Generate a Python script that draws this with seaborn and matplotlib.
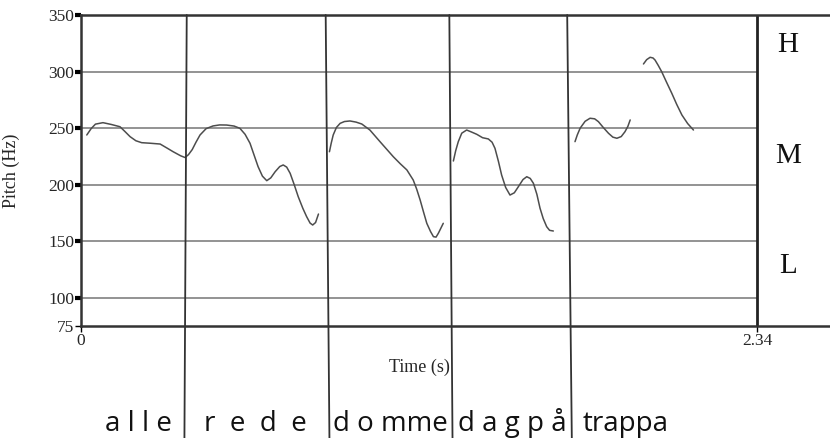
import matplotlib
matplotlib.use('Agg')
import matplotlib.pyplot as plt
import numpy as np
import pandas as pd
import seaborn as sns

# pitch track: time (s), pitch (Hz)
seg1_t = [0.020, 0.035, 0.050, 0.076, 0.105, 0.135, 0.152, 0.170, 0.190, 0.210, 0.240,
          0.274, 0.300, 0.319, 0.345, 0.360, 0.372, 0.385, 0.398, 0.412, 0.433, 0.457,
          0.480, 0.504, 0.530, 0.550, 0.568, 0.585, 0.600, 0.613, 0.628, 0.643, 0.657,
          0.672, 0.688, 0.700, 0.712, 0.724, 0.738, 0.752, 0.768, 0.781, 0.793, 0.802,
          0.812, 0.822]
seg1_f = [243.9, 249.5, 253.5, 254.8, 253.2, 251.2, 247.0, 242.4, 238.8, 237.1, 236.6,
          235.9, 232.0, 229.1, 225.5, 224.0, 226.5, 231.0, 237.5, 243.9, 249.5, 251.9,
          252.8, 252.7, 251.8, 249.8, 244.5, 236.6, 225.5, 215.9, 207.5, 203.5, 206.0,
          211.4, 216.0, 217.4, 215.5, 210.0, 200.0, 189.3, 179.0, 171.7, 166.0, 164.3,
          166.5, 174.0]
seg2_t = [0.860, 0.866, 0.873, 0.884, 0.897, 0.912, 0.931, 0.952, 0.972, 1.000, 1.035,
          1.081, 1.105, 1.128, 1.150, 1.162, 1.174, 1.186, 1.197, 1.210, 1.220, 1.229,
          1.237, 1.254]
seg2_f = [229.1, 236.5, 243.9, 250.5, 254.2, 255.8, 256.3, 255.3, 253.6, 248.3, 238.0,
          224.7, 218.5, 213.0, 204.1, 196.0, 186.4, 175.5, 165.8, 158.5, 154.0, 153.6,
          157.0, 165.8]
seg3_t = [1.289, 1.297, 1.306, 1.318, 1.335, 1.352, 1.370, 1.390, 1.410, 1.423, 1.433,
          1.445, 1.456, 1.470, 1.485, 1.500, 1.514, 1.530, 1.543, 1.555, 1.566, 1.578,
          1.589, 1.600, 1.612, 1.622, 1.635]
seg3_f = [220.9, 230.0, 238.0, 245.5, 248.3, 246.5, 244.5, 241.5, 240.4, 237.5, 232.1,
          220.5, 208.5, 197.5, 190.8, 192.8, 198.2, 204.5, 207.0, 205.5, 201.2, 191.5,
          179.1, 170.0, 162.8, 159.6, 159.0]
seg4_t = [1.710, 1.718, 1.728, 1.745, 1.762, 1.778, 1.791, 1.808, 1.826, 1.841, 1.855,
          1.870, 1.883, 1.893, 1.901]
seg4_f = [238.0, 244.0, 250.0, 256.0, 258.7, 258.2, 255.7, 250.5, 245.4, 242.0, 241.0,
          242.5, 246.8, 251.5, 257.2]
seg5_t = [1.947, 1.958, 1.970, 1.980, 1.987, 1.998, 2.010, 2.027, 2.045, 2.062, 2.080,
          2.100, 2.120]
seg5_f = [306.7, 310.5, 312.6, 312.0, 310.2, 305.5, 299.9, 290.5, 280.8, 271.0, 261.6,
          254.0, 248.3]

# word boundaries (time at the top line, time at the bottom of the picture)
bound_top = [0.366, 0.847, 1.275, 1.683]
bound_bot = [0.358, 0.860, 1.286, 1.699]

words = ['a l l e', 'r  e  d  e', 'd o mme', 'd a g p å', 'trappa']
word_t = [0.199, 0.604, 1.071, 1.492, 1.885]

levels = ['H', 'M', 'L']
level_f = [317.6, 218.9, 122.2]

y_ticks = [75, 100, 150, 200, 250, 300, 350]
x_ticks = [0, 2.34]
t_end = 2.34

segs = [(seg1_t, seg1_f), (seg2_t, seg2_f), (seg3_t, seg3_f), (seg4_t, seg4_f), (seg5_t, seg5_f)]
df = pd.concat([pd.DataFrame({'time': t, 'pitch': f, 'seg': i}) for i, (t, f) in enumerate(segs)])

sns.set_style('white')
plt.rcParams['font.family'] = ['Liberation Serif', 'DejaVu Serif']

fig = plt.figure(figsize=(8.30, 4.38), dpi=100)
ax = fig.add_axes([81 / 830, 112 / 438, 749 / 830, 311 / 438])

sns.lineplot(data=df, x='time', y='pitch', units='seg', estimator=None, sort=False,
             color='#4d4d4d', lw=1.1, solid_joinstyle='round', ax=ax)

ax.set_xlim(0, t_end * 749 / 676)
ax.set_ylim(75, 350)

# grid only inside the time range
ax.hlines([100, 150, 200, 250, 300], 0, t_end, color='#8a8a8a', lw=1.3, zorder=0)
ax.vlines(t_end, 75, 350, color='#222222', lw=2)

for top, bot in zip(bound_top, bound_bot):
    ax.plot([top, bot], [350, -25], color='#333333', lw=1.3, clip_on=False)

for w, t in zip(words, word_t):
    ax.text(t, -17.8, w, ha='center', va='baseline', fontsize=20,
            family=['Open Sans', 'DejaVu Sans'], color='#111111')

for s, f in zip(levels, level_f):
    ax.text(2.447, f, s, ha='center', va='baseline', fontsize=21, color='#111111')

for side in ['top', 'bottom', 'left']:
    ax.spines[side].set_color('#333333')
    ax.spines[side].set_linewidth(1.8)
ax.spines['right'].set_visible(False)

ax.set_yticks(y_ticks)
ax.set_yticklabels([str(v) for v in y_ticks])
ax.set_xticks(x_ticks)
ax.set_xticklabels(['0', '2.34'])
ax.tick_params(axis='y', direction='out', length=4, width=3, color='black', pad=1, labelsize=12.5, left=True)
ax.tick_params(axis='x', direction='out', length=4, width=1, color='black', pad=1, labelsize=12.5, bottom=True)
ax.yaxis.get_major_ticks()[0].tick1line.set_markeredgewidth(1)

ax.set_xlabel('Time (s)', fontsize=13)
ax.xaxis.set_label_coords(0.452, -0.106)
ax.xaxis.label.set_va('top')
ax.set_ylabel('Pitch (Hz)', fontsize=13)
ax.yaxis.set_label_coords(-0.082, 0.5)

fig.savefig('out.png', dpi=100)
